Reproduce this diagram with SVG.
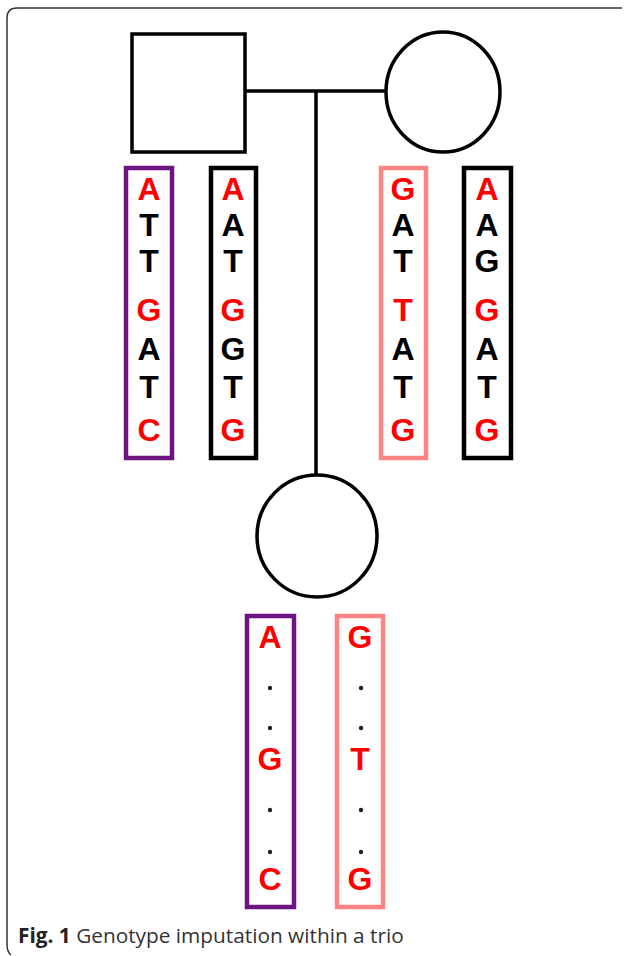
<svg xmlns="http://www.w3.org/2000/svg" width="624" height="956" viewBox="0 0 624 956">
<style>
.ln{fill:none;stroke:#000;stroke-width:3.5}
.bx{fill:#fff;stroke-width:4.5}
.pu{stroke:#6e1480}
.bk{stroke:#000}
.pk{stroke:#ff8585}
.nt{font-family:"Liberation Sans",Arial,sans-serif;font-size:32px;font-weight:bold;text-anchor:middle;dominant-baseline:central}
.r{fill:#ff0000}
.k{fill:#000}
.dot{fill:#222}
.cap{font-family:"Open Sans","Liberation Sans",sans-serif;font-size:20.8px;fill:#333}
</style>
<path d="M622,8 H17 Q7,8 7,18 V944 Q7,952 11,955" fill="none" stroke="#333" stroke-width="1.5"/>
<g id="connectors">
<line class="ln" x1="245" y1="91" x2="386" y2="91"/>
<line class="ln" x1="316" y1="91" x2="316" y2="476"/>
</g>
<g id="father"><rect class="ln" x="132" y="34" width="113" height="118"/></g>
<g id="mother"><ellipse class="ln" cx="443" cy="92" rx="57" ry="60"/></g>
<g id="child"><ellipse class="ln" cx="317" cy="536" rx="60" ry="61"/></g>
<g id="hap-f1">
<rect class="bx pu" x="126" y="168" width="46" height="290"/>
<text class="nt r" x="149" y="189">A</text>
<text class="nt k" x="149" y="225">T</text>
<text class="nt k" x="149" y="261">T</text>
<text class="nt r" x="149" y="310">G</text>
<text class="nt k" x="149" y="349">A</text>
<text class="nt k" x="149" y="387">T</text>
<text class="nt r" x="149" y="430">C</text>
</g>
<g id="hap-f2">
<rect class="bx bk" x="211" y="168" width="45" height="290"/>
<text class="nt r" x="233" y="189">A</text>
<text class="nt k" x="233" y="225">A</text>
<text class="nt k" x="233" y="261">T</text>
<text class="nt r" x="233" y="310">G</text>
<text class="nt k" x="233" y="349">G</text>
<text class="nt k" x="233" y="387">T</text>
<text class="nt r" x="233" y="430">G</text>
</g>
<g id="hap-m1">
<rect class="bx pk" x="381" y="168" width="45" height="290"/>
<text class="nt r" x="403" y="189">G</text>
<text class="nt k" x="403" y="225">A</text>
<text class="nt k" x="403" y="261">T</text>
<text class="nt r" x="403" y="310">T</text>
<text class="nt k" x="403" y="349">A</text>
<text class="nt k" x="403" y="387">T</text>
<text class="nt r" x="403" y="430">G</text>
</g>
<g id="hap-m2">
<rect class="bx bk" x="464" y="168" width="47" height="290"/>
<text class="nt r" x="487" y="189">A</text>
<text class="nt k" x="487" y="225">A</text>
<text class="nt k" x="487" y="261">G</text>
<text class="nt r" x="487" y="310">G</text>
<text class="nt k" x="487" y="349">A</text>
<text class="nt k" x="487" y="387">T</text>
<text class="nt r" x="487" y="430">G</text>
</g>
<g id="hap-c1">
<rect class="bx pu" x="247" y="616" width="47" height="291"/>
<text class="nt r" x="270" y="637">A</text>
<circle class="dot" cx="270" cy="688" r="2.2"/>
<circle class="dot" cx="270" cy="728" r="2.2"/>
<text class="nt r" x="270" y="759">G</text>
<circle class="dot" cx="270" cy="810" r="2.2"/>
<circle class="dot" cx="270" cy="852" r="2.2"/>
<text class="nt r" x="270" y="879">C</text>
</g>
<g id="hap-c2">
<rect class="bx pk" x="337" y="616" width="46" height="291"/>
<text class="nt r" x="360" y="637">G</text>
<circle class="dot" cx="361" cy="688" r="2.2"/>
<circle class="dot" cx="361" cy="728" r="2.2"/>
<text class="nt r" x="360" y="759">T</text>
<circle class="dot" cx="361" cy="810" r="2.2"/>
<circle class="dot" cx="361" cy="852" r="2.2"/>
<text class="nt r" x="360" y="879">G</text>
</g>
<text class="cap" x="18" y="943"><tspan font-weight="bold" fill="#222">Fig. 1</tspan> Genotype imputation within a trio</text>
</svg>
